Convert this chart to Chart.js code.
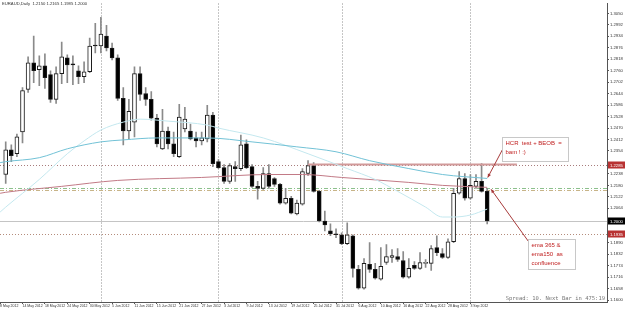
<!DOCTYPE html>
<html>
<head>
<meta charset="utf-8">
<script src="https://cdn.jsdelivr.net/npm/chart.js@4.4.0/dist/chart.umd.min.js"></script>
<style>
	html, body { margin: 0; padding: 0; background: #fff; overflow: hidden; }
</style>
</head>
<body>
<canvas id="chart" width="625" height="309"></canvas>
<script>
// EURAUD daily candles, 9 May - 6 Sep 2012 (one entry per bar)
const symbolTitle = 'EURAUD,Daily  1.2150 1.2165 1.1985 1.2000';

const openP = [1.2235,1.2360,1.2340,1.2450,1.2665,1.2800,1.2765,1.2785,1.2740,1.2615,
	1.2745,1.2825,1.2795,1.2760,1.2730,1.2755,1.2890,1.2885,1.2935,1.2875,
	1.2825,1.2620,1.2455,1.2500,1.2745,1.2645,1.2615,1.2520,1.2365,1.2455,
	1.2390,1.2325,1.2465,1.2455,1.2420,1.2405,1.2415,1.2535,1.2300,1.2270,
	1.2200,1.2275,1.2265,1.2390,1.2275,1.2175,1.2165,1.2240,1.2215,1.2185,
	1.2090,1.2115,1.2035,1.2085,1.2240,1.2280,1.2150,1.2000,1.1950,1.1935,
	1.1930,1.1885,1.1925,1.1755,1.1660,1.1780,1.1755,1.1705,1.1790,1.1815,
	1.1820,1.1800,1.1715,1.1775,1.1760,1.1785,1.1785,1.1865,1.1835,1.1815,
	1.1895,1.2140,1.2215,1.2115,1.2175,1.2200,1.2150];
const highP = [1.2400,1.2385,1.2440,1.2675,1.2830,1.2935,1.2835,1.2845,1.2760,1.2780,
	1.2905,1.2840,1.2835,1.2785,1.2805,1.2925,1.3000,1.3030,1.2990,1.2900,
	1.2840,1.2675,1.2615,1.2780,1.2780,1.2675,1.2655,1.2540,1.2565,1.2475,
	1.2450,1.2590,1.2575,1.2490,1.2450,1.2450,1.2585,1.2550,1.2310,1.2285,
	1.2290,1.2300,1.2435,1.2410,1.2285,1.2200,1.2270,1.2285,1.2220,1.2190,
	1.2165,1.2125,1.2105,1.2265,1.2305,1.2295,1.2155,1.2050,1.1985,1.1960,
	1.1940,1.1990,1.1930,1.1775,1.1810,1.1890,1.1785,1.1865,1.1880,1.1855,
	1.1860,1.1845,1.1810,1.1795,1.1840,1.1805,1.1875,1.1925,1.1860,1.1910,
	1.2165,1.2250,1.2240,1.2235,1.2235,1.2290,1.2165];
const lowP = [1.2190,1.2300,1.2325,1.2395,1.2650,1.2700,1.2685,1.2670,1.2600,1.2595,
	1.2695,1.2700,1.2690,1.2695,1.2700,1.2750,1.2850,1.2850,1.2860,1.2815,
	1.2610,1.2385,1.2415,1.2425,1.2610,1.2585,1.2510,1.2375,1.2360,1.2365,
	1.2325,1.2320,1.2450,1.2410,1.2375,1.2385,1.2400,1.2275,1.2265,1.2190,
	1.2190,1.2200,1.2255,1.2265,1.2170,1.2110,1.2160,1.2165,1.2175,1.2085,
	1.2085,1.2035,1.2030,1.2080,1.2230,1.2145,1.1995,1.1950,1.1925,1.1915,
	1.1880,1.1880,1.1715,1.1655,1.1655,1.1740,1.1705,1.1700,1.1780,1.1790,
	1.1795,1.1710,1.1710,1.1755,1.1755,1.1765,1.1750,1.1825,1.1810,1.1810,
	1.1890,1.2135,1.2105,1.2110,1.2165,1.2145,1.1985];
const closeP = [1.2360,1.2330,1.2425,1.2660,1.2800,1.2760,1.2785,1.2725,1.2615,1.2745,
	1.2830,1.2790,1.2790,1.2730,1.2755,1.2885,1.2885,1.2945,1.2875,1.2825,
	1.2620,1.2455,1.2555,1.2745,1.2640,1.2615,1.2520,1.2390,1.2455,1.2390,
	1.2340,1.2525,1.2515,1.2415,1.2405,1.2420,1.2535,1.2290,1.2270,1.2200,
	1.2280,1.2265,1.2385,1.2270,1.2175,1.2165,1.2240,1.2175,1.2185,1.2090,
	1.2115,1.2040,1.2090,1.2250,1.2280,1.2150,1.2000,1.1980,1.1935,1.1930,
	1.1885,1.1930,1.1760,1.1660,1.1785,1.1755,1.1710,1.1770,1.1820,1.1825,
	1.1805,1.1715,1.1760,1.1760,1.1790,1.1790,1.1860,1.1840,1.1815,1.1895,
	1.2140,1.2215,1.2115,1.2180,1.2200,1.2150,1.2000];

// moving averages, read at a few bars (bar index -> price)
const ema150Idx = [-1,0,6,11,17,21,27,36,44,52,59,65,72,78,86];
const ema150 = [1.2295,1.2300,1.2320,1.2365,1.2400,1.2410,1.2420,1.2420,1.2400,1.2375,1.2350,1.2305,1.2265,1.2235,1.2215];
const ema50Idx = [-1,0,6,11,14,17,21,24,29,36,38,46,54,61,66,70,75,78,80,83,86];
const ema50 = [1.2045,1.2070,1.2210,1.2340,1.2405,1.2460,1.2500,1.2515,1.2505,1.2485,1.2470,1.2420,1.2340,1.2265,1.2210,1.2150,1.2070,1.2020,1.2020,1.2030,1.2060];
const ema365Idx = [-1,0,10,20,35,47,53,60,72,78,86];
const ema365 = [1.2140,1.2145,1.2175,1.2205,1.2220,1.2235,1.2235,1.2220,1.2195,1.2180,1.2170];

// horizontal levels
const hcrLevel = 1.2285,
	  hcrIdx = [54, 91.3],
	  emaZoneTop = 1.2165,
	  emaZoneBottom = 1.2155,
	  bidPrice = 1.2000,
	  supportLevel = 1.1935;

// axes
const xTickIdx = [-1,3,7,11,15,19,23,27,31,35,39,43,47,51,55,59,63,67,71,75,79,83];
const xTickText = ['8 May 2012','14 May 2012','18 May 2012','24 May 2012','30 May 2012','5 Jun 2012',
	'11 Jun 2012','15 Jun 2012','21 Jun 2012','27 Jun 2012','3 Jul 2012','9 Jul 2012','13 Jul 2012',
	'19 Jul 2012','25 Jul 2012','31 Jul 2012','6 Aug 2012','10 Aug 2012','16 Aug 2012','22 Aug 2012',
	'28 Aug 2012','3 Sep 2012'];
const monthStartIdx = [17, 38, 60, 83];
const yTickValues = [1.3050,1.2992,1.2934,1.2876,1.2818,1.2760,1.2702,1.2644,1.2586,1.2528,
	1.2470,1.2412,1.2354,1.2296,1.2238,1.2180,1.2122,1.2064,1.2006,1.1948,
	1.1890,1.1832,1.1774,1.1716,1.1658,1.1600];

// notes on the chart
const noteHcrText = ['HCR  test + BEOB  =', 'bam ! :)'];
const noteEmaText = ['ema 365 &', 'ema150  as', 'confluence'];
const spreadText = 'Spread: 10. Next Bar in 475:19';

const axisFont = "'Liberation Sans',Arial,sans-serif";
const noteFont = "'Liberation Sans',Arial,sans-serif";

const pts = (idx, vals) => idx.map((v, i) => ({x: v, y: vals[i]}));
const bodies = openP.map((o, i) => ({x: i, y: [o, closeP[i]]}));
const wicks = lowP.map((l, i) => ({x: i, y: [l, highP[i]]}));

const levelLines = [
	{value: hcrLevel, color: '#a87c7c', dash: [1, 2]},
	{value: supportLevel, color: '#b48c7c', dash: [1, 2]},
	{value: emaZoneTop, color: '#8cc08c', dash: [4, 2, 1, 2]},
	{value: emaZoneBottom, color: '#c8b488', dash: [4, 2, 1, 2]},
	{value: bidPrice, color: '#c4c4c4', dash: []}
];
const priceTags = [
	{value: hcrLevel, bg: '#b83232'},
	{value: bidPrice, bg: '#000'},
	{value: supportLevel, bg: '#b83232'}
];
const notes = [
	{at: [88.6, 1.2425], w: 66, h: 24, lines: noteHcrText, from: [0, 12], tip: [86.1, 1.2220]},
	{at: [93.3, 1.1910], w: 47, h: 30, lines: noteEmaText, from: [0, 2], tip: [86.7, 1.2160]}
];

function arrow(c, x1, y1, x2, y2) {
	c.beginPath(); c.moveTo(x1, y1); c.lineTo(x2, y2); c.stroke();
	const ang = Math.atan2(y2 - y1, x2 - x1);
	c.beginPath();
	c.moveTo(x2, y2);
	c.lineTo(x2 - 4 * Math.cos(ang - 0.45), y2 - 4 * Math.sin(ang - 0.45));
	c.lineTo(x2 - 4 * Math.cos(ang + 0.45), y2 - 4 * Math.sin(ang + 0.45));
	c.closePath(); c.fill();
}

const overlayPlugin = {
	id: 'overlay',
	beforeDraw(chart) {
		const c = chart.ctx;
		c.save(); c.fillStyle = '#fff'; c.fillRect(0, 0, chart.width, chart.height); c.restore();
	},
	beforeDatasetsDraw(chart) {
		const {ctx: c, chartArea: a, scales: {x, y}} = chart;
		c.save();
		c.lineWidth = 1;
		// month separators
		c.strokeStyle = '#8c8c8c'; c.setLineDash([1, 2]);
		monthStartIdx.forEach((i) => {
			const px = Math.round(x.getPixelForValue(i)) + 0.5;
			c.beginPath(); c.moveTo(px, a.top); c.lineTo(px, a.bottom); c.stroke();
		});
		// levels
		levelLines.forEach((l) => {
			const py = Math.round(y.getPixelForValue(l.value)) + 0.5;
			c.strokeStyle = l.color; c.setLineDash(l.dash);
			c.beginPath(); c.moveTo(a.left, py); c.lineTo(a.right, py); c.stroke();
		});
		c.restore();
	},
	afterDraw(chart) {
		const {ctx: c, chartArea: a, scales: {x, y}} = chart;
		c.save();
		// price tags on the right scale
		c.font = `4.2px ${axisFont}`;
		c.textBaseline = 'middle';
		priceTags.forEach((t) => {
			const py = Math.round(y.getPixelForValue(t.value));
			c.fillStyle = t.bg; c.fillRect(a.right + 1, py - 3.5, 17, 7);
			c.fillStyle = '#fff'; c.fillText(t.value.toFixed(4), a.right + 3, py + 0.5);
		});
		// title
		c.fillStyle = '#333'; c.textBaseline = 'top';
		c.fillText(symbolTitle, 2, 1.5);
		// notes with arrows
		notes.forEach((n) => {
			const bx = Math.round(x.getPixelForValue(n.at[0])) + 0.5,
				  by = Math.round(y.getPixelForValue(n.at[1])) + 0.5;
			c.strokeStyle = '#a83a3a'; c.fillStyle = '#a83a3a'; c.lineWidth = 1;
			arrow(c, bx + n.from[0], by + n.from[1], x.getPixelForValue(n.tip[0]), y.getPixelForValue(n.tip[1]));
			c.fillStyle = '#fff'; c.strokeStyle = '#c8c8c8';
			c.fillRect(bx, by, n.w, n.h); c.strokeRect(bx, by, n.w, n.h);
			c.fillStyle = '#c02020'; c.font = `6px ${noteFont}`; c.textBaseline = 'top';
			n.lines.forEach((t, i) => c.fillText(t, bx + 3, by + 3 + i * 9));
		});
		// terminal status text
		c.fillStyle = '#777'; c.font = "5.5px 'DejaVu Sans Mono',monospace";
		c.textAlign = 'right'; c.textBaseline = 'alphabetic';
		c.fillText(spreadText, a.right - 2, a.bottom - 2);
		c.restore();
	}
};

new Chart(document.getElementById('chart'), {
	type: 'bar',
	data: {
		datasets: [
			{ // ema 150
				type: 'line', data: pts(ema150Idx, ema150), borderColor: '#72c2d6', borderWidth: 1,
				pointRadius: 0, cubicInterpolationMode: 'monotone', order: 0
			},{ // faster ema, very light
				type: 'line', data: pts(ema50Idx, ema50), borderColor: '#c4e8ef', borderWidth: 1,
				pointRadius: 0, cubicInterpolationMode: 'monotone', order: 0
			},{ // ema 365
				type: 'line', data: pts(ema365Idx, ema365), borderColor: '#c27a86', borderWidth: 1,
				pointRadius: 0, cubicInterpolationMode: 'monotone', order: 0
			},{ // HCR level drawn as a trend line
				type: 'line', data: hcrIdx.map((v) => ({x: v, y: hcrLevel})), borderColor: '#d29a9a',
				borderWidth: 2, pointRadius: 0, order: 0
			},{ // candle bodies
				data: bodies,
				backgroundColor: bodies.map((b) => b.y[1] > b.y[0] ? '#fff' : '#000'),
				borderColor: '#1a1a1a', borderWidth: 1, borderSkipped: false,
				barThickness: 4, minBarLength: 1, grouped: false, order: 1
			},{ // wicks
				data: wicks, backgroundColor: '#8a8a8a', borderWidth: 0,
				barThickness: 1, grouped: false, order: 2
			}
		]
	},
	options: {
		responsive: false,
		devicePixelRatio: 1,
		animation: false,
		layout: { padding: 0 },
		scales: {
			x: {
				type: 'linear', min: -1.02, max: 107.4, offset: false,
				grid: { display: true, drawOnChartArea: false, tickLength: 2, color: '#555', offset: false },
				border: { display: true, color: '#555' },
				afterBuildTicks: (s) => { s.ticks = xTickIdx.map((v) => ({value: v})); },
				afterFit: (s) => { s.height = 7; },
				ticks: {
					autoSkip: false, maxRotation: 0, minRotation: 0, align: 'start', padding: 0,
					color: '#333', font: { family: axisFont, size: 3.5 },
					callback: (v, i) => xTickText[i]
				}
			},
			y: {
				position: 'right', min: 1.1590, max: 1.3100,
				grid: { display: true, drawOnChartArea: false, tickLength: 2, color: '#555' },
				border: { display: true, color: '#555' },
				afterBuildTicks: (s) => {
					// the coloured price tags cover the scale labels next to them
					s.ticks = yTickValues
						.filter((v) => !priceTags.some((t) => Math.abs(t.value - v) < 0.0016))
						.map((v) => ({value: v}));
				},
				afterFit: (s) => { s.width = 18; },
				ticks: {
					padding: 1, color: '#333', font: { family: axisFont, size: 4.2 },
					callback: (v) => v.toFixed(4)
				}
			}
		},
		plugins: {
			legend: { display: false },
			tooltip: { enabled: false }
		}
	},
	plugins: [overlayPlugin]
});
</script>
</body>
</html>
